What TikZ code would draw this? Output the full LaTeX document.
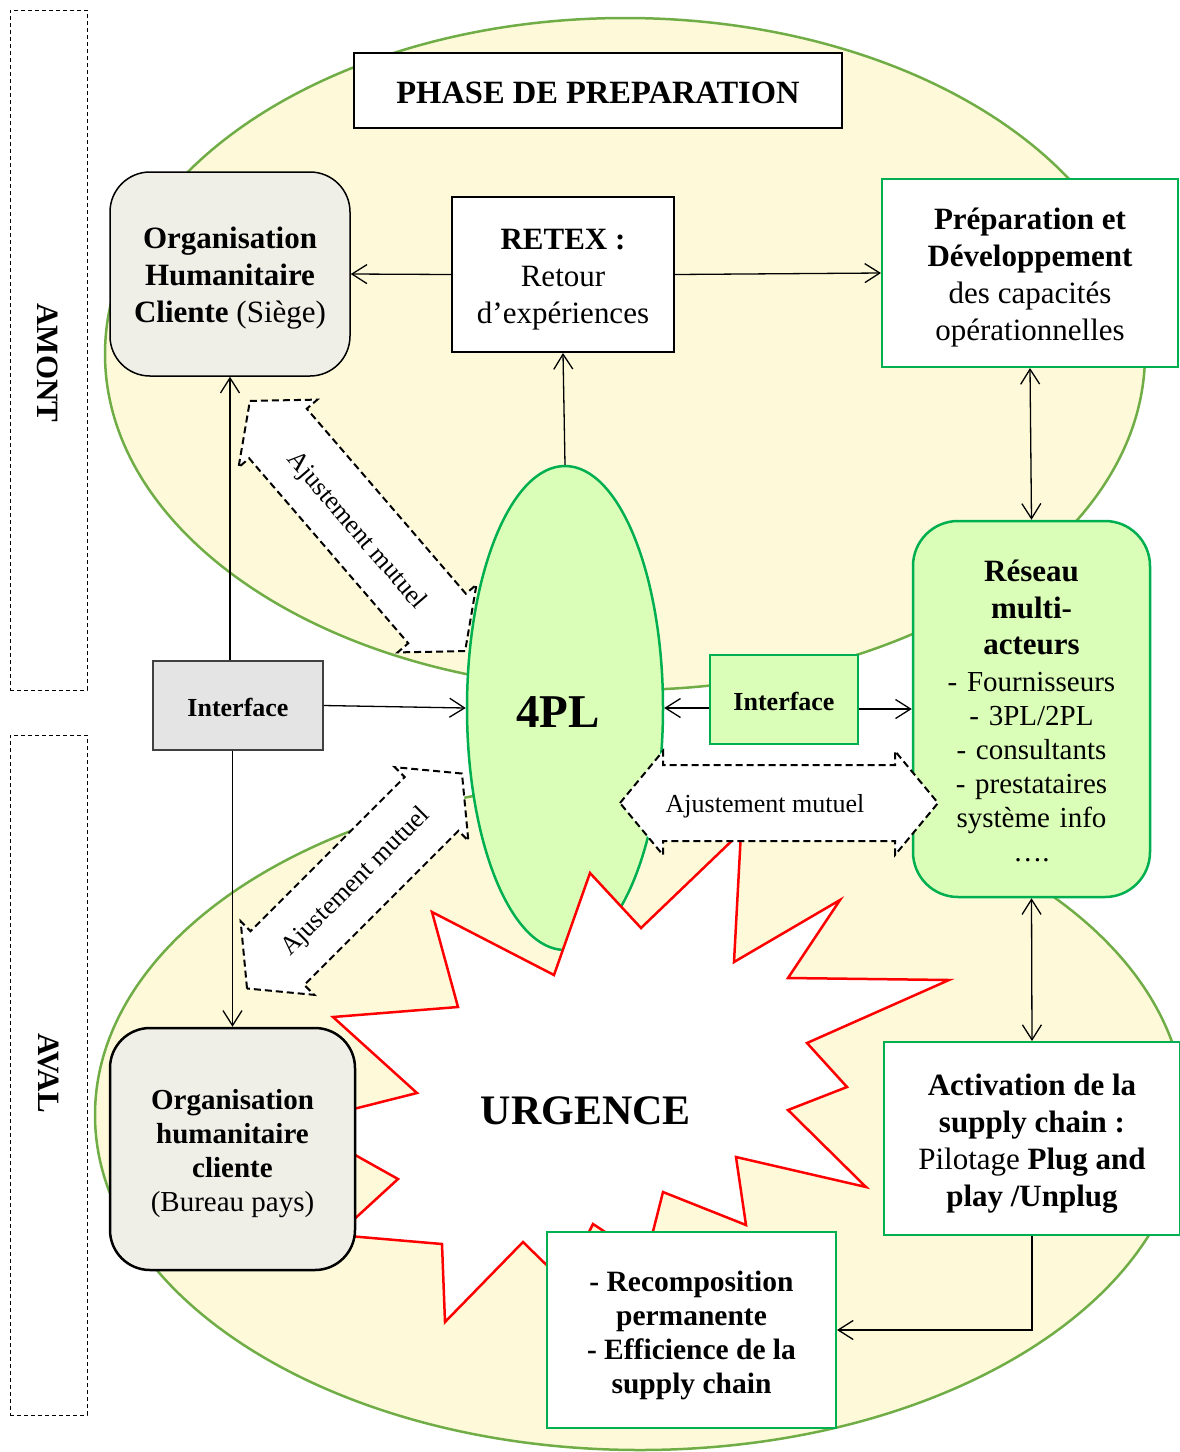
\documentclass[tikz,border=0pt]{standalone}
\usepackage{fontspec}
\setmainfont{Liberation Serif}
\usetikzlibrary{arrows.meta,shapes.geometric}
\definecolor{ylw}{RGB}{254,250,217}
\definecolor{elg}{RGB}{112,173,71}
\definecolor{grn}{RGB}{0,176,80}
\definecolor{lgrn}{RGB}{218,253,183}
\definecolor{gbox}{RGB}{239,239,232}
\definecolor{gif}{RGB}{228,228,228}
\newcommand{\ajarrow}[4]{%
  \begin{scope}[shift={(#1,#2)},rotate=#3]
    \draw[dblarr] ({-#4},0) -- ({-#4+43},-52) -- ({-#4+43},-38) -- ({#4-43},-38) -- ({#4-43},-52) -- ({#4},0)
      -- ({#4-43},52) -- ({#4-43},38) -- ({-#4+43},38) -- ({-#4+43},52) -- cycle;
  \end{scope}}
\begin{document}
\begin{tikzpicture}[x=1pt,y=-1pt,
  mainf/.style={font=\fontsize{31}{37}\selectfont},
  arr/.style={line width=1.3pt,-{Straight Barb[length=15pt,width=19pt,line width=1.3pt]}},
  arrb/.style={line width=1.3pt,{Straight Barb[length=15pt,width=19pt,line width=1.3pt]}-{Straight Barb[length=15pt,width=19pt,line width=1.3pt]}},
  box/.style={draw, inner sep=0pt},
  txt/.style={align=center, inner sep=0pt},
  dblarr/.style={draw=black, fill=white, line width=2pt, dash pattern=on 7pt off 4pt},
  sidebox/.style={draw, dash pattern=on 4pt off 3pt, line width=0.9pt, minimum width=77pt, minimum height=680pt, inner sep=0pt},
  ellzone/.style={draw=elg, fill=ylw, line width=2.5pt},
  ajtext/.style={font=\fontsize{26}{30}\selectfont}
]
\useasboundingbox (0,0) rectangle (1180,1452);

% zones
\draw[ellzone] (625,354) ellipse [x radius=520pt, y radius=336pt];
\draw[ellzone] (640,1115) ellipse [x radius=545pt, y radius=335pt];

% side boxes
\node[sidebox] (amontbox) at (48.5,350) {};
\node[sidebox] (avalbox) at (48.5,1075) {};
\node[rotate=-90, font=\bfseries\fontsize{31}{37}\selectfont] (amont) at (48,363) {AMONT};
\node[rotate=-90, font=\bfseries\fontsize{31}{37}\selectfont] (aval) at (48,1073) {AVAL};

% 4PL
\node[ellipse, draw=grn, fill=lgrn, line width=2.5pt, minimum width=196pt, minimum height=484pt, inner sep=0pt] (fourpl) at (565,708) {};
\node[txt, font=\bfseries\fontsize{47}{50}\selectfont] (fourplt) at (558,712) {4PL};

% urgence star
\draw[red, line width=2.5pt, fill=white] (432,912) -- (554,975) -- (590,873) -- (641,928) -- (741,832) -- (734,962)
  -- (840,900) -- (788,978) -- (949,980) -- (807,1043) -- (847,1087) -- (788,1110) -- (866,1187) -- (736,1157)
  -- (746,1225) -- (663,1192) -- (646,1259) -- (593,1224) -- (564,1282) -- (523,1242) -- (445,1322) -- (442,1244)
  -- (337,1235) -- (398,1179) -- (298,1123) -- (417,1093) -- (333,1017) -- (458,1007) -- cycle;
\node[txt, font=\bfseries\fontsize{42}{50}\selectfont] (urg) at (586,1111) {URGENCE};

% boxes (shapes)
\node[box, fill=white, line width=2pt, minimum width=488pt, minimum height=75pt] (phase) at (598,90.5) {};
\node[box, rounded corners=40pt, fill=gbox, line width=1.5pt, minimum width=240pt, minimum height=204pt] (orgS) at (230,274) {};
\node[box, fill=white, line width=2pt, minimum width=222pt, minimum height=155pt] (retex) at (563,274.5) {};
\node[box, draw=grn, fill=white, line width=2pt, minimum width=296pt, minimum height=188pt] (prep) at (1030,273) {};
\node[box, draw=black!75, fill=gif, line width=1.2pt, minimum width=170pt, minimum height=89pt] (ifL) at (238,705.5) {};
\node[box, draw=grn, fill=lgrn, line width=1.2pt, minimum width=148pt, minimum height=89pt] (ifR) at (784,699.5) {};
\node[box, rounded corners=45pt, draw=grn, fill=lgrn, line width=2.5pt, minimum width=237pt, minimum height=376pt] (reseau) at (1031.5,709) {};
\node[box, rounded corners=40pt, fill=gbox, line width=2.5pt, minimum width=245pt, minimum height=242pt] (orgB) at (232.5,1149) {};
\node[box, draw=grn, fill=white, line width=2pt, minimum width=296pt, minimum height=193pt] (activ) at (1032,1138.5) {};
\node[box, draw=grn, fill=white, line width=2pt, minimum width=289pt, minimum height=196pt] (recomp) at (691.5,1330) {};

% box texts
\node[txt, font=\bfseries\fontsize{32.5}{37}\selectfont] (phaset) at ([yshift=-2pt]phase.center) {PHASE DE PREPARATION};
\node[txt, mainf] (orgSt) at ([yshift=-4.5pt]orgS.center) {\textbf{Organisation}\\\textbf{Humanitaire}\\\textbf{Cliente} (Siège)};
\node[txt, mainf] (retext) at ([yshift=-5pt]retex.center) {\textbf{RETEX :}\\Retour\\d’expériences};
\node[txt, mainf] (prept) at ([yshift=-5pt]prep.center) {\textbf{Préparation et}\\\textbf{Développement}\\des capacités\\opérationnelles};
\node[txt, font=\bfseries\fontsize{26}{30}\selectfont] (ifLt) at ([yshift=-2pt]ifL.center) {Interface};
\node[txt, font=\bfseries\fontsize{26}{30}\selectfont] (ifRt) at ([yshift=-2pt]ifR.center) {Interface};
\node[txt, text width=230pt, font=\fontsize{29}{34}\selectfont] (reseaut) at ([yshift=-2pt]reseau.center)
  {{\bfseries\fontsize{31}{34}\selectfont Réseau\\[2.5pt]multi-\\[2.5pt]acteurs\\[2.5pt]}- Fournisseurs\\- 3PL/2PL\\- consultants\\- prestataires\\système info\\….};
\node[txt, font=\fontsize{29}{34}\selectfont] (orgBt) at ([yshift=-5pt]orgB.center)
  {\textbf{Organisation}\\\textbf{humanitaire}\\\textbf{cliente}\\(Bureau pays)};
\node[txt, mainf] (activt) at ([yshift=-5pt]activ.center)
  {\textbf{Activation de la}\\\textbf{supply chain :}\\Pilotage \textbf{Plug and}\\\textbf{play /Unplug}};
\node[txt, font=\bfseries\fontsize{29.5}{34}\selectfont] (recompt) at ([yshift=-5pt]recomp.center)
  {- Recomposition\\permanente\\- Efficience de la\\supply chain};

% connectors
\draw[arr] (retex.west) -- (orgS.east);
\draw[arr] (retex.east) -- (prep.west);
\draw[arr] (fourpl.north) -- (retex.south);
\draw[arrb] (prep.south) -- (reseau.north);
\draw[arr] (ifL.north -| orgS.south) -- (orgS.south);
\draw[arr] (ifL.south -| orgB.north) -- (orgB.north);
\draw[arr] (ifL.east) -- (fourpl.west);
\draw[arr] ([yshift=-8.5pt]ifR.west) -- (fourpl.east);
\draw[arr] ([yshift=-9.5pt]ifR.east) -- (reseau.west);
\draw[arrb] (reseau.south) -- (activ.north);
\draw[arr] (activ.south) |- (recomp.east);

% mutual adjustment arrows
\ajarrow{357.5}{526}{-49.3}{165}
\ajarrow{354.5}{881}{45}{152}
\ajarrow{779}{803}{0}{159}
\node[ajtext, rotate=-49.3] (ajA) at (356,531) {Ajustement mutuel};
\node[ajtext, rotate=45] (ajB) at (356,882) {Ajustement mutuel};
\node[ajtext] (ajC) at (765,806) {Ajustement mutuel};
\end{tikzpicture}
\end{document}
